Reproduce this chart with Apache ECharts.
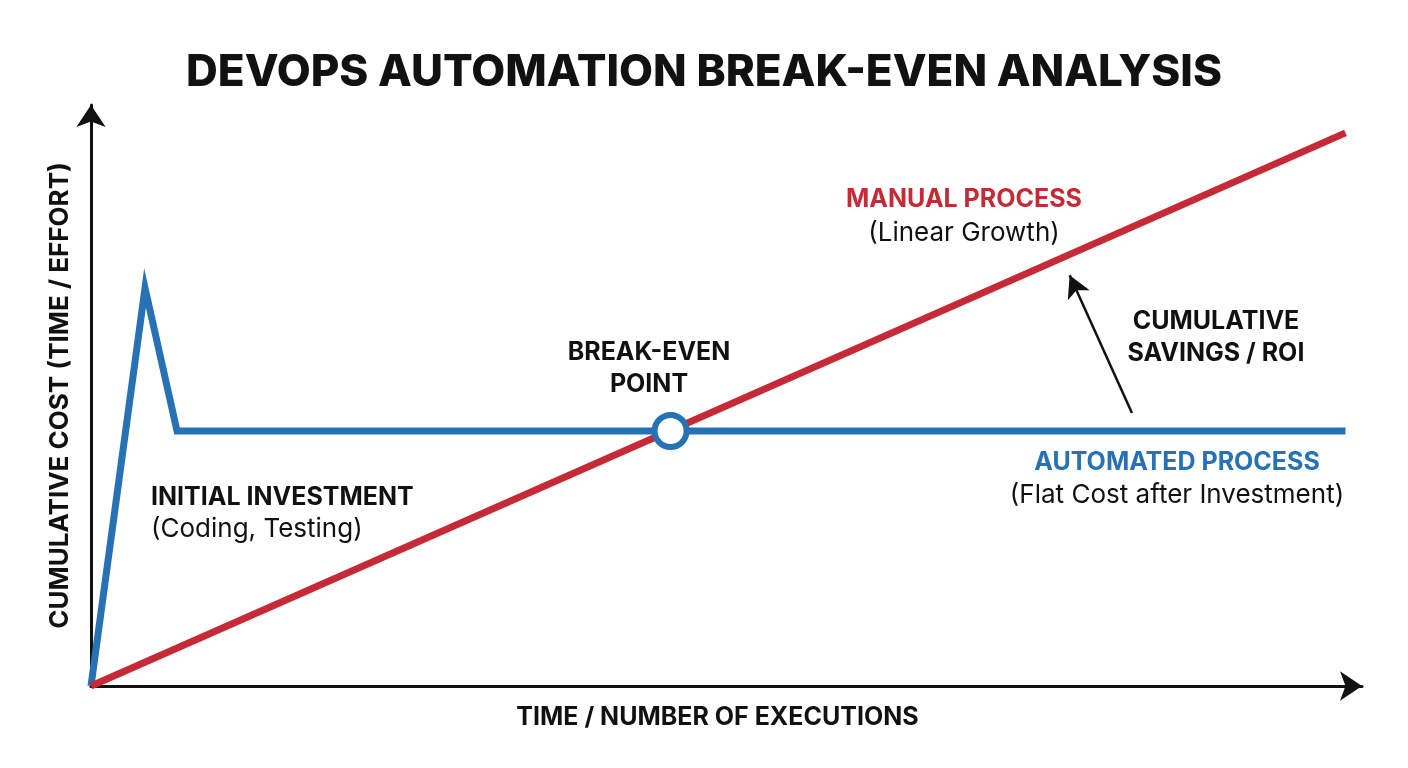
<!DOCTYPE html>
<html>
<head>
<meta charset="utf-8">
<script src="https://cdn.jsdelivr.net/npm/echarts@6/dist/echarts.min.js"></script>
<style>
html,body{margin:0;padding:0;background:#fff;}
#chart{width:1408px;height:768px;}
</style>
</head>
<body>
<div id="chart"></div>
<script>
// ---- data (x: time / executions, y: cumulative cost) ----
const manualX = [0, 98.7];
const manualY = [0, 95.2];
const automatedX = [0, 4.25, 6.77, 98.7];
const automatedY = [0, 68.5, 43.9, 43.9];
const breakEvenX = [45.6];
const breakEvenY = [43.9];
const savingsArrowX = [81.9, 77.0];
const savingsArrowY = [47.0, 70.7];

const titleText = 'DEVOPS AUTOMATION BREAK-EVEN ANALYSIS';
const xAxisName = 'TIME / NUMBER OF EXECUTIONS';
const yAxisName = 'CUMULATIVE COST (TIME / EFFORT)';

const RED = '#C62A36';
const BLUE = '#2771B5';
const INK = '#111111';
const FONT = 'Inter';

const chart = echarts.init(document.getElementById('chart'));

function txt(x, y, text, opts) {
  return {
    type: 'text', x: x, y: y, silent: true,
    style: Object.assign({
      text: text, fill: INK, font: 'bold 25px ' + FONT,
      textAlign: 'center', textVerticalAlign: 'middle'
    }, opts || {})
  };
}

chart.setOption({
  backgroundColor: '#ffffff',
  animation: false,
  title: {
    text: titleText,
    left: 'center', top: 46,
    textStyle: { fontFamily: FONT, fontWeight: 800, fontSize: 44, color: INK }
  },
  grid: { left: 91, right: 46, top: 105, bottom: 82 },
  xAxis: {
    type: 'value', min: 0, max: 100,
    name: xAxisName, nameLocation: 'middle', nameGap: 19,
    nameTextStyle: { fontFamily: FONT, fontWeight: 'bold', fontSize: 25, color: INK, padding: [0, 18, 0, 0] },
    axisLine: { show: true, symbol: ['none', 'arrow'], symbolSize: [22, 22],
      lineStyle: { color: INK, width: 3 } },
    axisTick: { show: false }, axisLabel: { show: false }, splitLine: { show: false }
  },
  yAxis: {
    type: 'value', min: 0, max: 100,
    name: yAxisName, nameLocation: 'middle', nameGap: 18,
    nameTextStyle: { fontFamily: FONT, fontWeight: 'bold', fontSize: 26, color: INK },
    axisLine: { show: true, symbol: ['none', 'arrow'], symbolSize: [22, 22],
      lineStyle: { color: INK, width: 3 } },
    axisTick: { show: false }, axisLabel: { show: false }, splitLine: { show: false }
  },
  series: [
    {
      name: 'Manual Process', type: 'line', z: 3,
      data: manualX.map((x, i) => [x, manualY[i]]),
      showSymbol: false, lineStyle: { color: RED, width: 7, cap: 'butt' }
    },
    {
      name: 'Automated Process', type: 'line', z: 2,
      data: automatedX.map((x, i) => [x, automatedY[i]]),
      showSymbol: false, lineStyle: { color: BLUE, width: 7, join: 'miter' }
    },
    {
      name: 'Break-even', type: 'scatter', z: 5,
      data: breakEvenX.map((x, i) => [x, breakEvenY[i]]),
      symbol: 'circle', symbolSize: 32,
      itemStyle: { color: '#ffffff', borderColor: BLUE, borderWidth: 6, opacity: 1 }
    },
    {
      name: 'Savings', type: 'line', z: 4,
      data: [],
      markLine: {
        silent: true, animation: false,
        symbol: ['none', 'arrow'], symbolSize: [18, 22],
        label: { show: false },
        lineStyle: { color: INK, width: 2.5, type: 'solid' },
        data: [[
          { coord: [savingsArrowX[0], savingsArrowY[0]] },
          { coord: [savingsArrowX[1], savingsArrowY[1]] }
        ]]
      }
    }
  ],
  graphic: [
    txt(964, 199, 'MANUAL PROCESS', { fill: RED }),
    txt(964, 233, '(Linear Growth)', { font: '26px ' + FONT }),
    txt(1216, 321, 'CUMULATIVE'),
    txt(1216, 353, 'SAVINGS / ROI'),
    txt(649, 352, 'BREAK-EVEN'),
    txt(649, 384, 'POINT'),
    txt(1177, 462, 'AUTOMATED PROCESS', { fill: BLUE }),
    txt(1177, 495, '(Flat Cost after Investment)', { font: '26px ' + FONT }),
    txt(151, 497, 'INITIAL INVESTMENT', { textAlign: 'left' }),
    txt(151, 529, '(Coding, Testing)', { textAlign: 'left', font: '26px ' + FONT })
  ]
});
</script>
</body>
</html>
